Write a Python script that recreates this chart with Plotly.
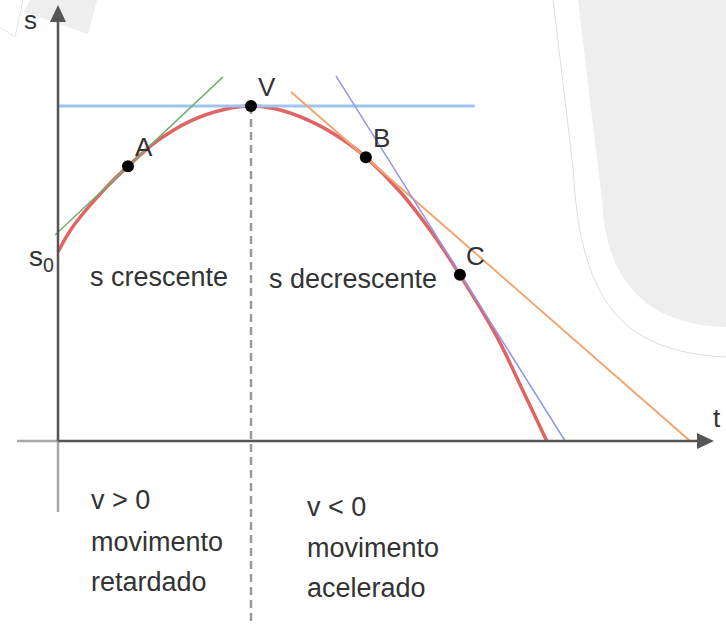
import plotly.graph_objects as go

# ---- data: position-time curve s(t) (sample points along the curve) ----
t_curve = [0.0, 0.31, 1.02, 1.45, 2.05, 2.74, 3.42, 4.0, 4.66, 5.37, 6.05, 6.38,
           7.09, 7.77, 8.33, 9.10, 9.58, 10.13]
s_curve = [5.64, 6.40, 7.60, 8.20, 8.95, 9.55, 9.89, 10.0, 9.86, 9.45, 8.85, 8.47,
           7.44, 6.18, 4.96, 3.10, 1.67, 0.0]

# marked instants
point_labels = ["A", "V", "B", "C"]
point_t = [1.45, 4.0, 6.38, 8.33]
point_s = [8.20, 10.0, 8.47, 4.96]

# tangent lines (end points)
tanA_t, tanA_s = [-0.06, 3.42], [6.15, 10.87]
tanV_t, tanV_s = [0.0, 8.64], [10.0, 10.0]
tanB_t, tanB_s = [4.83, 13.10], [10.42, 0.0]
tanC_t, tanC_s = [5.76, 10.51], [10.90, 0.0]

# ---- canvas geometry ----
W, H = 726, 625
X0, Y0 = 58, 441          # pixel position of the origin
PX_T, PX_S = 48.25, 33.5  # pixels per unit of t and of s
x_range = [-X0 / PX_T, (W - X0) / PX_T]
y_range = [(Y0 - H) / PX_S, Y0 / PX_S]


def tx(px):
    return (px - X0) / PX_T


def sy(py):
    return (Y0 - py) / PX_S


def pp(px, py):
    return px / W, 1 - py / H


def paper_path(points, close=True):
    parts = []
    for i, (a, b) in enumerate(points):
        x, y = pp(a, b)
        parts.append(("M" if i == 0 else "L") + f"{x:.5f},{y:.5f}")
    return " ".join(parts) + (" Z" if close else "")


def paper_curve(cmds):
    out = []
    for c in cmds:
        op, pts = c[0], c[1:]
        coords = " ".join(f"{pp(a, b)[0]:.5f},{pp(a, b)[1]:.5f}" for a, b in pts)
        out.append(op + coords)
    return " ".join(out)


FONT = "Liberation Sans, Arial, sans-serif"
TXT = "#333333"

fig = go.Figure()

# curve
fig.add_trace(go.Scatter(x=t_curve, y=s_curve, mode="lines",
                         line=dict(color="#e06464", width=3.5, shape="spline", smoothing=1.0),
                         hoverinfo="skip"))
# tangents
fig.add_trace(go.Scatter(x=tanV_t, y=tanV_s, mode="lines",
                         line=dict(color="rgb(160,196,236)", width=3), hoverinfo="skip"))
fig.add_trace(go.Scatter(x=tanA_t, y=tanA_s, mode="lines",
                         line=dict(color="rgb(112,176,112)", width=1.5), hoverinfo="skip"))
fig.add_trace(go.Scatter(x=tanB_t, y=tanB_s, mode="lines",
                         line=dict(color="rgb(240,166,112)", width=2), hoverinfo="skip"))
fig.add_trace(go.Scatter(x=tanC_t, y=tanC_s, mode="lines",
                         line=dict(color="rgb(148,148,236)", width=1.5), hoverinfo="skip"))
# points
fig.add_trace(go.Scatter(x=point_t, y=point_s, mode="markers",
                         marker=dict(color="black", size=12), hoverinfo="skip"))

shapes = []
# light grey background blob on the right
shapes.append(dict(type="path", xref="paper", yref="paper", layer="below",
                   path=paper_curve([("M", (578, 0)), ("L", (602, 200)),
                                     ("C", (606, 285), (650, 325), (726, 327)),
                                     ("L", (726, 0))]) + " Z",
                   fillcolor="#eeeeee", line=dict(width=0)))
shapes.append(dict(type="path", xref="paper", yref="paper", layer="below",
                   path=paper_curve([("M", (553, 0)), ("L", (573, 167)),
                                     ("C", (580, 300), (620, 352), (726, 357))]),
                   line=dict(color="#dedede", width=1)))
# top-left background pieces
shapes.append(dict(type="path", xref="paper", yref="paper", layer="below",
                   path=paper_path([(30, 0), (97, 0), (88, 34), (24, 12)]),
                   fillcolor="#eeeeee", line=dict(width=0)))
shapes.append(dict(type="path", xref="paper", yref="paper", layer="below",
                   path=paper_path([(0, 27), (15, 37), (23, 0)], close=False),
                   line=dict(color="#e2e2e2", width=1)))

# dashed vertical through V
shapes.append(dict(type="line", xref="x", yref="y", layer="below",
                   x0=point_t[1], x1=point_t[1], y0=point_s[1], y1=y_range[0],
                   line=dict(color="#9a9a9a", width=2.5, dash="8px,5px")))

# axes
AX_D, AX_L = "#555555", "#a8a8a8"
shapes += [
    dict(type="line", xref="x", yref="y", x0=tx(17), x1=0, y0=0, y1=0,
         line=dict(color=AX_L, width=2.5)),
    dict(type="line", xref="x", yref="y", x0=0, x1=0, y0=0, y1=sy(512),
         line=dict(color=AX_L, width=2.5)),
    dict(type="line", xref="x", yref="y", x0=0, x1=tx(700), y0=0, y1=0,
         line=dict(color=AX_D, width=2.5)),
    dict(type="line", xref="x", yref="y", x0=0, x1=0, y0=0, y1=sy(20),
         line=dict(color=AX_D, width=2.5)),
    dict(type="path", xref="paper", yref="paper",
         path=paper_path([(714, 441), (697, 433), (697, 449)]),
         fillcolor=AX_D, line=dict(width=0)),
    dict(type="path", xref="paper", yref="paper",
         path=paper_path([(58, 5), (50, 22), (66, 22)]),
         fillcolor=AX_D, line=dict(width=0)),
]

annotations = []


def text_at(px, py, txt, size=27, xanchor="center"):
    x, y = pp(px, py)
    annotations.append(dict(x=x, y=y, xref="paper", yref="paper", text=txt,
                            showarrow=False, xanchor=xanchor, yanchor="middle",
                            font=dict(family=FONT, size=size, color=TXT)))


# point labels, placed up-right of each point
for lab, t, s in zip(point_labels, point_t, point_s):
    annotations.append(dict(x=t, y=s, xref="x", yref="y", text=lab, showarrow=False,
                            xshift=16, yshift=19,
                            font=dict(family=FONT, size=26, color=TXT)))

text_at(30, 20, "s", size=26)
text_at(717, 418, "t", size=26)
text_at(56, 258, "s<sub>0</sub>", size=28, xanchor="right")
text_at(159, 277, "s crescente")
text_at(353, 279, "s decrescente")
for py, txt in zip([500, 542, 582], ["v &gt; 0", "movimento", "retardado"]):
    text_at(89, py, txt, xanchor="left")
for py, txt in zip([507, 548, 588], ["v &lt; 0", "movimento", "acelerado"]):
    text_at(305, py, txt, xanchor="left")

fig.update_layout(
    width=W, height=H, margin=dict(l=0, r=0, t=0, b=0),
    paper_bgcolor="white", plot_bgcolor="rgba(0,0,0,0)",
    showlegend=False, shapes=shapes, annotations=annotations,
    xaxis=dict(range=x_range, visible=False, fixedrange=True),
    yaxis=dict(range=y_range, visible=False, fixedrange=True),
)

fig.write_html("out.html", config={"displayModeBar": False})
